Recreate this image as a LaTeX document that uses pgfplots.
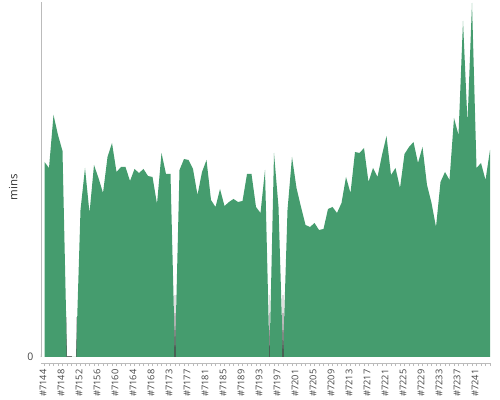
\documentclass[border=0pt]{standalone}
\usepackage{pgfplots}
\pgfplotsset{compat=1.18}
\usepackage{fontspec}
\setmainfont{Open Sans}
\definecolor{areagreen}{HTML}{459C6E}
\definecolor{axgray}{HTML}{BBBBBB}
\definecolor{lblgray}{HTML}{444444}
\begin{document}
\begin{tikzpicture}
\useasboundingbox (0,0) rectangle (500bp,400bp);
\begin{axis}[
  at={(40.9bp,37bp)}, anchor=south west,
  scale only axis, width=450bp, height=361bp,
  xmin=-0.8, xmax=99.2, ymin=-6, ymax=355,
  axis x line*=bottom, axis y line=none,
  x axis line style={axgray},
  xtick={0,4,...,96},
  xticklabels={\#7144,\#7148,\#7152,\#7156,\#7160,\#7164,\#7168,\#7173,\#7177,\#7181,\#7185,\#7189,\#7193,\#7197,\#7201,\#7205,\#7209,\#7213,\#7217,\#7221,\#7225,\#7229,\#7233,\#7237,\#7241},
  minor xtick={0,...,99},
  x tick label style={rotate=90, anchor=east, font=\fontsize{9.3}{10}\selectfont, text=lblgray, yshift=1.5bp},
  tick style={axgray},
  major tick length=3bp, minor tick length=3bp,
  tick align=outside,
  ytick=\empty,
  clip=false,
]
\addplot[fill=areagreen, draw=none] coordinates {
(0,195)(1,189)(2,242)(3,222)(4,206)(5,0)(6,0)(7,0)(8,147)(9,189)
(10,144)(11,192)(12,179)(13,164)(14,200)(15,214)(16,185)(17,190)(18,190)(19,176)
(20,188)(21,184)(22,188)(23,181)(24,180)(25,153)(26,204)(27,183)(28,183)(29,0)
(30,187)(31,198)(32,197)(33,188)(34,162)(35,185)(36,197)(37,157)(38,150)(39,168)
(40,151)(41,155)(42,158)(43,155)(44,156)(45,183)(46,183)(47,150)(48,144)(49,187)
(50,0)(51,204)(52,150)(53,0)(54,147)(55,200)(56,169)(57,150)(58,132)(59,130)
(60,134)(61,127)(62,128)(63,148)(64,150)(65,144)(66,154)(67,180)(68,164)(69,205)
(70,204)(71,209)(72,175)(73,189)(74,180)(75,202)(76,221)(77,182)(78,189)(79,169)
(80,203)(81,210)(82,215)(83,194)(84,210)(85,172)(86,154)(87,130)(88,175)(89,185)
(90,177)(91,239)(92,222)(93,336)(94,234)(95,354)(96,189)(97,194)(98,177)(99,207)
} \closedcycle;
% gray shading at the bottom of the zero dips
\addplot[ycomb, draw=black!70, line width=1.1bp, opacity=0.18, mark=none, forget plot] coordinates {(29,62)(50,62)(53,62)};
\addplot[ycomb, draw=black!70, line width=1.1bp, opacity=0.25, mark=none, forget plot] coordinates {(29,44)(50,44)(53,44)};
\addplot[ycomb, draw=black!70, line width=1.1bp, opacity=0.3, mark=none, forget plot] coordinates {(29,27)(50,27)(53,27)};
\addplot[ycomb, draw=black!70, line width=1.1bp, opacity=0.35, mark=none, forget plot] coordinates {(29,12)(50,12)(53,12)};
\addplot[ycomb, draw=black!65, line width=0.8bp, opacity=0.3, mark=none, forget plot] coordinates {(4.93,40)(7.07,40)};
\addplot[ycomb, draw=black!65, line width=0.8bp, opacity=0.3, mark=none, forget plot] coordinates {(4.96,18)(7.04,18)};
\addplot[draw=black!55, line width=0.6bp, mark=none, forget plot] coordinates {(5,0.3)(6.2,0.3)};
\draw[axgray] (axis cs:-0.8,0) -- (axis cs:-0.8,355);
\draw[axgray] (axis cs:-0.8,0) -- ++(-3bp,0);
\node[anchor=east, text=lblgray, font=\fontsize{10.5}{11}\selectfont] at ([xshift=-4bp]axis cs:-0.8,0) {0};
\node[rotate=90, anchor=south, text=black!80, font=\fontsize{11.5}{12}\selectfont] at ([xshift=-20bp]axis cs:-0.8,170) {mins};
\end{axis}
\end{tikzpicture}
\end{document}
